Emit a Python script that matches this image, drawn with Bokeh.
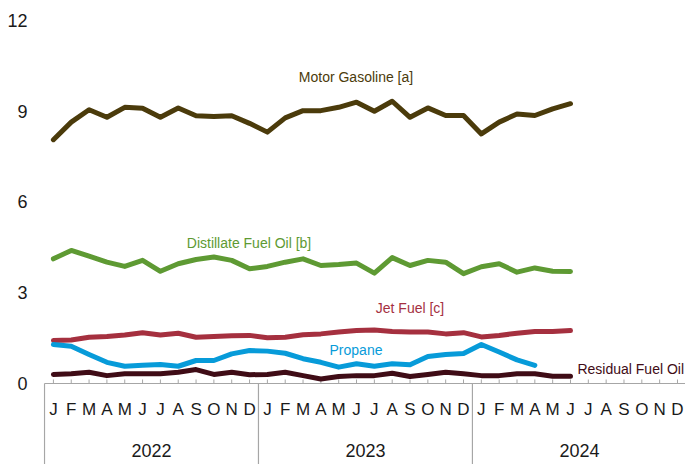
import numpy as np
from bokeh.plotting import figure
from bokeh.models import Range1d, FixedTicker, LinearAxis
from bokeh.core.properties import value
from bokeh.embed import file_html
from bokeh.resources import INLINE

# ---------------- data ----------------
month_letters = ["J", "F", "M", "A", "M", "J", "J", "A", "S", "O", "N", "D"]
years = ["2022", "2023", "2024"]
y_ticks = [0, 3, 6, 9, 12]

motor_gasoline = [8.06, 8.64, 9.05, 8.80, 9.13, 9.10, 8.80, 9.11, 8.85, 8.83, 8.85, 8.60,
                  8.31, 8.78, 9.02, 9.02, 9.13, 9.30, 9.00, 9.33, 8.80, 9.11, 8.86, 8.86,
                  8.25, 8.64, 8.91, 8.86, 9.08, 9.25]
distillate = [4.12, 4.40, 4.21, 4.01, 3.87, 4.07, 3.71, 3.96, 4.10, 4.18, 4.07, 3.79,
              3.87, 4.01, 4.12, 3.90, 3.93, 3.98, 3.65, 4.16, 3.90, 4.07, 4.01, 3.63,
              3.86, 3.96, 3.68, 3.82, 3.71, 3.70]
jet_fuel = [1.42, 1.44, 1.53, 1.55, 1.60, 1.68, 1.60, 1.66, 1.53, 1.55, 1.58, 1.59,
            1.51, 1.53, 1.61, 1.64, 1.70, 1.75, 1.77, 1.72, 1.70, 1.70, 1.64, 1.68,
            1.54, 1.59, 1.66, 1.72, 1.72, 1.75]
propane = [1.29, 1.23, 0.96, 0.70, 0.57, 0.60, 0.63, 0.57, 0.76, 0.76, 0.98, 1.09,
           1.07, 1.00, 0.82, 0.70, 0.54, 0.65, 0.57, 0.65, 0.62, 0.89, 0.96, 0.99,
           1.29, 1.04, 0.78, 0.60]
residual = [0.30, 0.32, 0.37, 0.26, 0.32, 0.32, 0.32, 0.37, 0.46, 0.30, 0.37, 0.29,
            0.30, 0.37, 0.26, 0.15, 0.23, 0.26, 0.26, 0.34, 0.23, 0.30, 0.37, 0.32,
            0.26, 0.26, 0.32, 0.32, 0.24, 0.24]

series = [
    ("Motor Gasoline [a]", motor_gasoline, "#4b3b0b"),
    ("Distillate Fuel Oil [b]", distillate, "#5e9a33"),
    ("Jet Fuel [c]", jet_fuel, "#a5303f"),
    ("Propane", propane, "#079bd9"),
    ("Residual Fuel Oil", residual, "#3f0c16"),
]

# label placement (style, not data): (x, y, align)
label_pos = {
    "Motor Gasoline [a]": (16.97, 10.13, "center"),
    "Distillate Fuel Oil [b]": (10.97, 4.63, "center"),
    "Jet Fuel [c]": (20.0, 2.50, "center"),
    "Propane": (16.97, 1.11, "center"),
    "Residual Fuel Oil": (29.39, 0.49, "left"),
}

FONT = "Liberation Sans"
GRAY = "#a6a6a6"
TXT = "#1a1a1a"

n_months = len(month_letters) * len(years)
Y_MIN = -2.678
X0 = -0.556
X1 = 35.45

p = figure(width=685, height=464, output_backend="svg", toolbar_location=None,
           x_range=Range1d(X0, X1), y_range=Range1d(Y_MIN, 12),
           x_axis_type=None, y_axis_type=None,
           min_border_left=43, min_border_right=0, min_border_top=20, min_border_bottom=0)
p.outline_line_color = None
p.xgrid.visible = False
p.ygrid.visible = False
p.background_fill_color = "white"
p.border_fill_color = "white"

# month / year axis drawn in data space below zero
months = np.arange(n_months)
p.segment(x0=[-0.5], y0=[0], x1=[n_months - 0.5], y1=[0], line_color=GRAY, line_width=1.2)
p.segment(x0=months, y0=np.zeros(n_months), x1=months, y1=np.full(n_months, 0.132),
          line_color=GRAY, line_width=1)
seps = np.arange(len(years) + 1) * 12 - 0.5
p.segment(x0=seps, y0=np.zeros(len(seps)), x1=seps, y1=np.full(len(seps), Y_MIN),
          line_color=GRAY, line_width=1.2)
p.text(x=months, y=np.zeros(n_months), text=[month_letters[i % 12] for i in months],
       y_offset=26, text_color=TXT, text_font=value(FONT), text_font_size="17px",
       text_align="center", text_baseline="middle")
year_x = np.arange(len(years)) * 12 + 5.5
p.text(x=year_x, y=np.zeros(len(years)), text=years, y_offset=67,
       text_color=TXT, text_font=value(FONT), text_font_size="18px",
       text_align="center", text_baseline="middle")

for name, vals, color in series:
    xs = np.arange(len(vals))
    p.line(xs, vals, line_color=color, line_width=5, line_join="round", line_cap="round")
    lx, ly, al = label_pos[name]
    p.text(x=[lx], y=[ly], text=[name], text_color=color, text_font=value(FONT),
           text_font_size="14px", text_align=al, text_baseline="middle")

# y axis
yax = LinearAxis(ticker=FixedTicker(ticks=y_ticks))
yax.axis_line_color = None
yax.major_tick_line_color = None
yax.minor_tick_line_color = None
yax.major_tick_in = 0
yax.major_tick_out = 0
yax.minor_tick_in = 0
yax.minor_tick_out = 0
yax.major_label_text_font = FONT
yax.major_label_text_font_size = "18px"
yax.major_label_text_color = TXT
yax.major_label_standoff = 16
p.add_layout(yax, "left")

open("out.html", "w").write(file_html(p, INLINE))
